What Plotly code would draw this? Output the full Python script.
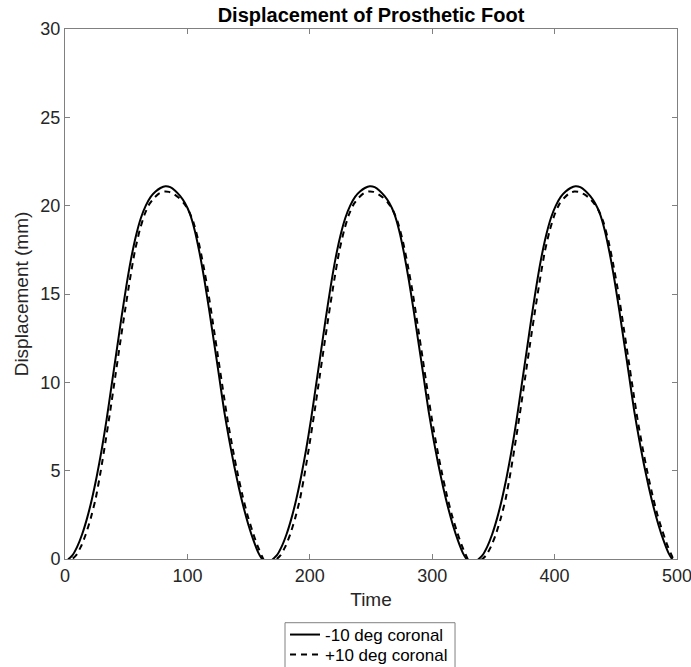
import plotly.graph_objects as go

# -10 deg coronal (solid), three cycles
t_neg_c1 = [0, 3, 6, 10, 14, 18, 22, 26, 30, 34, 38, 42, 46, 50, 54, 58, 62, 66, 70, 74, 78, 82, 86, 90, 94, 98,
            102, 106, 110, 114, 118, 122, 126, 130, 134, 138, 142, 146, 150, 154, 158, 161, 165]
y_neg_c1 = [-0.25, 0, 0.2, 0.7, 1.4, 2.3, 3.4, 4.7, 6.2, 7.9, 9.8, 11.7, 13.6, 15.4, 17.0, 18.3, 19.3, 20.0, 20.5,
            20.8, 21.0, 21.1, 21.05, 20.85, 20.55, 20.15, 19.55, 18.6, 17.3, 15.75, 14.0, 12.15, 10.3, 8.4, 6.8,
            5.35, 4.05, 2.9, 1.9, 1.05, 0.35, 0, -0.3]
t_neg_c2 = [170, 173, 177, 181, 185, 189, 193, 197, 201, 205, 209, 213, 217, 221, 225, 229, 233, 237, 241, 245, 249,
            253, 257, 261, 265, 269, 273, 277, 281, 285, 289, 293, 297, 301, 305, 309, 313, 317, 321, 325, 328, 332]
y_neg_c2 = [0, 0.2, 0.7, 1.4, 2.3, 3.4, 4.7, 6.2, 7.9, 9.8, 11.7, 13.6, 15.4, 17.0, 18.3, 19.3, 20.0, 20.5,
            20.8, 21.0, 21.1, 21.05, 20.85, 20.55, 20.15, 19.55, 18.6, 17.3, 15.75, 14.0, 12.15, 10.3, 8.4, 6.8,
            5.35, 4.05, 2.9, 1.9, 1.05, 0.35, 0, -0.3]
t_neg_c3 = [338, 341, 345, 349, 353, 357, 361, 365, 369, 373, 377, 381, 385, 389, 393, 397, 401, 405, 409, 413, 417,
            421, 425, 429, 433, 437, 441, 445, 449, 453, 457, 461, 465, 469, 473, 477, 481, 485, 489, 493, 496, 500]
y_neg_c3 = [0, 0.2, 0.7, 1.4, 2.3, 3.4, 4.7, 6.2, 7.9, 9.8, 11.7, 13.6, 15.4, 17.0, 18.3, 19.3, 20.0, 20.5,
            20.8, 21.0, 21.1, 21.05, 20.85, 20.55, 20.15, 19.55, 18.6, 17.3, 15.75, 14.0, 12.15, 10.3, 8.4, 6.8,
            5.35, 4.05, 2.9, 1.9, 1.05, 0.35, 0, -0.3]

# +10 deg coronal (dashed), three cycles
t_pos_c1 = [0, 6, 9, 13, 17, 21, 25, 29, 33, 37, 41, 45, 49, 53, 57, 61, 65, 69, 73, 77, 81, 85, 89, 93, 97,
            101, 105, 109, 113, 117, 121, 125, 129, 133, 137, 141, 145, 149, 153, 157, 161, 162, 166]
y_pos_c1 = [-0.4, 0, 0.2, 0.7, 1.4, 2.3, 3.4, 4.9, 6.6, 8.4, 10.3, 12.2, 14.05, 15.8, 17.4, 18.6, 19.5, 20.1,
            20.45, 20.7, 20.8, 20.78, 20.65, 20.45, 20.15, 19.73, 19.05, 18.0, 16.65, 15.1, 13.3, 11.45, 9.6, 7.8,
            6.25, 4.85, 3.6, 2.5, 1.6, 0.8, 0.15, 0, -0.3]
t_pos_c2 = [173, 176, 180, 184, 188, 192, 196, 200, 204, 208, 212, 216, 220, 224, 228, 232, 236, 240, 244, 248,
            252, 256, 260, 264, 268, 272, 276, 280, 284, 288, 292, 296, 300, 304, 308, 312, 316, 320, 324, 328, 329, 333]
y_pos_c2 = [0, 0.2, 0.7, 1.4, 2.3, 3.4, 4.9, 6.6, 8.4, 10.3, 12.2, 14.05, 15.8, 17.4, 18.6, 19.5, 20.1,
            20.45, 20.7, 20.8, 20.78, 20.65, 20.45, 20.15, 19.73, 19.05, 18.0, 16.65, 15.1, 13.3, 11.45, 9.6, 7.8,
            6.25, 4.85, 3.6, 2.5, 1.6, 0.8, 0.15, 0, -0.3]
t_pos_c3 = [341, 344, 348, 352, 356, 360, 364, 368, 372, 376, 380, 384, 388, 392, 396, 400, 404, 408, 412, 416,
            420, 424, 428, 432, 436, 440, 444, 448, 452, 456, 460, 464, 468, 472, 476, 480, 484, 488, 492, 496, 497, 500]
y_pos_c3 = [0, 0.2, 0.7, 1.4, 2.3, 3.4, 4.9, 6.6, 8.4, 10.3, 12.2, 14.05, 15.8, 17.4, 18.6, 19.5, 20.1,
            20.45, 20.7, 20.8, 20.78, 20.65, 20.45, 20.15, 19.73, 19.05, 18.0, 16.65, 15.1, 13.3, 11.45, 9.6, 7.8,
            6.25, 4.85, 3.6, 2.5, 1.6, 0.8, 0.15, 0, -0.3]

series_names = ["-10 deg coronal", "+10 deg coronal"]
x_ticks = [0, 100, 200, 300, 400, 500]
y_ticks = [0, 5, 10, 15, 20, 25, 30]

t_neg = t_neg_c1 + t_neg_c2 + t_neg_c3
y_neg = y_neg_c1 + y_neg_c2 + y_neg_c3
t_pos = t_pos_c1 + t_pos_c2 + t_pos_c3
y_pos = y_pos_c1 + y_pos_c2 + y_pos_c3

FONT = "Liberation Sans, Arial, sans-serif"
TXT = "#262626"

fig = go.Figure()
fig.add_trace(go.Scatter(x=t_neg, y=y_neg, mode="lines", name=series_names[0], legend="legend",
                         line=dict(color="black", width=2, shape="spline", smoothing=0.6)))
fig.add_trace(go.Scatter(x=t_pos, y=y_pos, mode="lines", name=series_names[1], legend="legend2",
                         line=dict(color="black", width=2, dash="6px,5px", shape="spline", smoothing=0.6)))

axis_common = dict(showgrid=False, zeroline=False, showline=True, linecolor="#808080", linewidth=1,
                   mirror="ticks", ticks="inside", ticklen=5, tickcolor="#808080",
                   ticklabeloverflow="allow",
                   tickfont=dict(family=FONT, size=18, color=TXT))

fig.update_xaxes(range=[0, 500], tickvals=x_ticks,
                 title=dict(text="Time", font=dict(family=FONT, size=19, color=TXT), standoff=8),
                 **axis_common)
fig.update_yaxes(range=[0, 30], tickvals=y_ticks,
                 title=dict(text="Displacement (mm)", font=dict(family=FONT, size=19, color=TXT), standoff=6),
                 **axis_common)

legend_style = dict(xanchor="left", yanchor="middle", borderwidth=0, bgcolor="rgba(0,0,0,0)",
                    font=dict(family=FONT, size=17, color="black"), itemwidth=30)

fig.update_layout(
    width=691, height=667,
    margin=dict(l=65, r=14, t=29, b=108, autoexpand=False),
    plot_bgcolor="white", paper_bgcolor="white",
    title=dict(text="<b>Displacement of Prosthetic Foot</b>", xref="paper", x=0.5, xanchor="center",
               yref="container", y=0.9775, yanchor="middle",
               font=dict(family=FONT, size=20, color="black")),
    showlegend=True,
    legend=dict(x=0.3595, y=-0.1434, **legend_style),
    legend2=dict(x=0.3595, y=-0.1811, **legend_style),
    shapes=[dict(type="rect", xref="paper", yref="paper", x0=0.3595, x1=0.6373, y0=-0.1202, y1=-0.30,
                 line=dict(color="#808080", width=1), fillcolor="rgba(0,0,0,0)", layer="below")],
)

fig.write_html("out.html", config={"displayModeBar": False},
               post_script="document.body.style.margin='0px';")
